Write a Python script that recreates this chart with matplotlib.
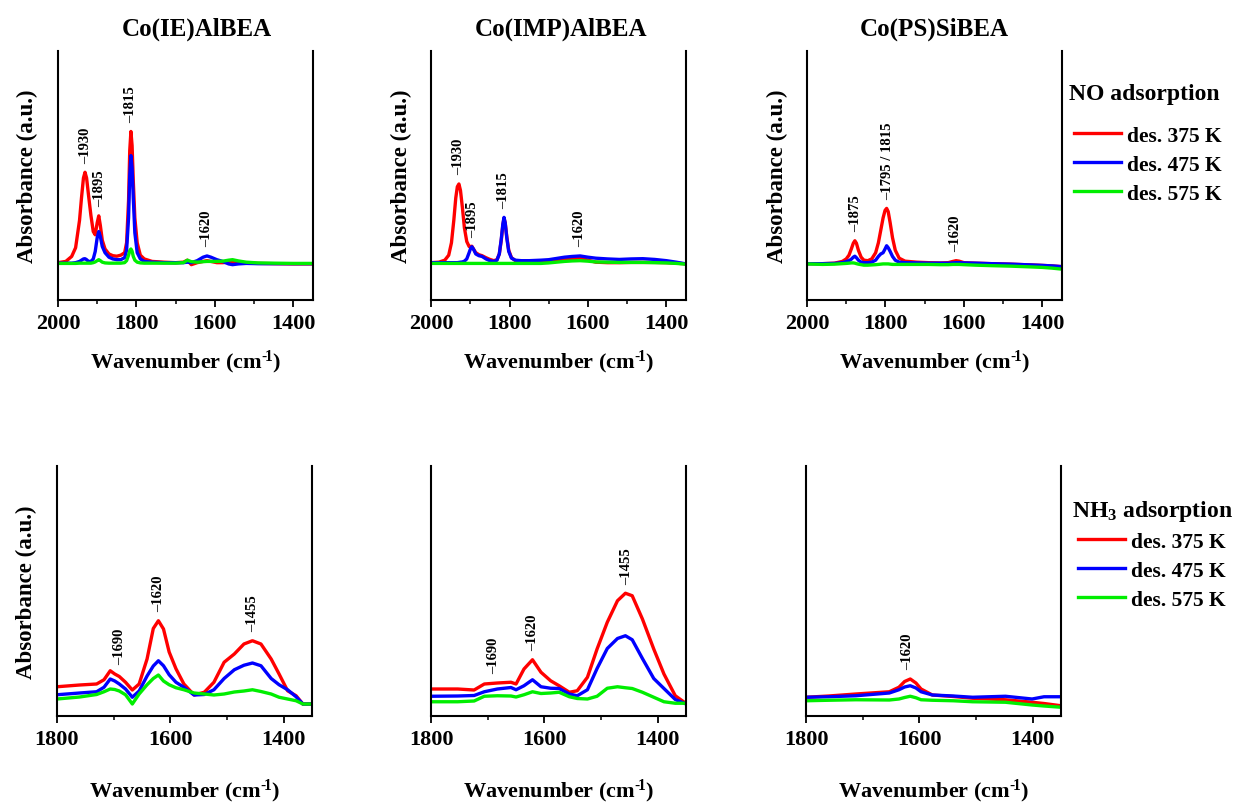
import numpy as np
import matplotlib
matplotlib.use('Agg')
import matplotlib.pyplot as plt
from matplotlib.ticker import MultipleLocator

plt.rcParams['font.family'] = 'Liberation Serif'
plt.rcParams['font.weight'] = 'bold'
plt.rcParams['axes.labelweight'] = 'bold'
plt.rcParams['axes.titleweight'] = 'bold'
plt.rcParams['mathtext.fontset'] = 'custom'
plt.rcParams['mathtext.rm'] = 'Liberation Serif:bold'
plt.rcParams['mathtext.bf'] = 'Liberation Serif:bold'
plt.rcParams['mathtext.it'] = 'Liberation Serif:bold'
plt.rcParams['mathtext.default'] = 'rm'

samples = ['Co(IE)AlBEA', 'Co(IMP)AlBEA', 'Co(PS)SiBEA']
series_labels = ['des. 375 K', 'des. 475 K', 'des. 575 K']
colors = ['#ff0000', '#0000ff', '#00ee00']

# ---- NO adsorption (absorbance in arbitrary units) ----
no_ie_wn = [2000, 1980, 1965, 1955, 1945, 1940, 1935, 1931, 1927, 1922,
            1916, 1910, 1905, 1900, 1896, 1892, 1887, 1880, 1870, 1860,
            1850, 1840, 1830, 1825, 1820, 1817, 1814, 1811, 1808, 1804,
            1798, 1790, 1780, 1760, 1730, 1700, 1680, 1670, 1660, 1645,
            1630, 1620, 1610, 1595, 1580, 1565, 1555, 1540, 1520, 1490,
            1450, 1400, 1350]
no_ie_375 = [0.150, 0.155, 0.175, 0.210, 0.320, 0.410, 0.490, 0.513, 0.490, 0.420,
             0.340, 0.275, 0.262, 0.310, 0.338, 0.300, 0.240, 0.205, 0.185, 0.178,
             0.176, 0.180, 0.190, 0.230, 0.400, 0.600, 0.677, 0.620, 0.480, 0.330,
             0.230, 0.180, 0.165, 0.155, 0.152, 0.150, 0.152, 0.160, 0.142, 0.150,
             0.155, 0.158, 0.155, 0.150, 0.150, 0.152, 0.152, 0.150, 0.148, 0.147,
             0.146, 0.145, 0.145]
no_ie_475 = [0.148, 0.148, 0.148, 0.150, 0.155, 0.160, 0.165, 0.166, 0.162, 0.155,
             0.155, 0.165, 0.195, 0.250, 0.275, 0.255, 0.215, 0.190, 0.172, 0.165,
             0.162, 0.162, 0.170, 0.200, 0.330, 0.500, 0.580, 0.530, 0.410, 0.270,
             0.190, 0.165, 0.155, 0.152, 0.150, 0.150, 0.150, 0.152, 0.150, 0.158,
             0.172, 0.177, 0.172, 0.162, 0.155, 0.145, 0.142, 0.145, 0.147, 0.146,
             0.146, 0.146, 0.146]
no_ie_575 = [0.147, 0.147, 0.147, 0.147, 0.148, 0.148, 0.148, 0.148, 0.148, 0.148,
             0.148, 0.150, 0.153, 0.158, 0.162, 0.158, 0.152, 0.149, 0.148, 0.148,
             0.148, 0.148, 0.150, 0.158, 0.180, 0.198, 0.205, 0.196, 0.175, 0.160,
             0.152, 0.149, 0.148, 0.148, 0.148, 0.148, 0.150, 0.160, 0.154, 0.152,
             0.154, 0.155, 0.155, 0.155, 0.156, 0.160, 0.162, 0.157, 0.152, 0.149,
             0.148, 0.147, 0.147]

no_imp_wn = [2000, 1980, 1965, 1955, 1948, 1942, 1937, 1933, 1929, 1925,
             1920, 1915, 1909, 1903, 1899, 1896, 1892, 1886, 1878, 1870,
             1860, 1850, 1840, 1832, 1826, 1821, 1817, 1814, 1811, 1807,
             1802, 1795, 1785, 1770, 1750, 1720, 1700, 1680, 1660, 1640,
             1620, 1600, 1580, 1550, 1520, 1490, 1460, 1430, 1400, 1375,
             1350]
no_imp_375 = [0.150, 0.152, 0.160, 0.180, 0.230, 0.320, 0.410, 0.455, 0.466, 0.440,
              0.370, 0.290, 0.235, 0.215, 0.215, 0.216, 0.205, 0.190, 0.182, 0.178,
              0.170, 0.163, 0.158, 0.162, 0.185, 0.240, 0.300, 0.328, 0.310, 0.255,
              0.200, 0.170, 0.158, 0.153, 0.152, 0.153, 0.155, 0.158, 0.162, 0.165,
              0.170, 0.160, 0.152, 0.150, 0.150, 0.151, 0.151, 0.151, 0.150, 0.148,
              0.145]
no_imp_475 = [0.150, 0.150, 0.150, 0.150, 0.150, 0.150, 0.150, 0.150, 0.151, 0.152,
              0.153, 0.156, 0.165, 0.190, 0.208, 0.214, 0.205, 0.185, 0.178, 0.175,
              0.165, 0.158, 0.155, 0.160, 0.185, 0.245, 0.305, 0.332, 0.310, 0.250,
              0.195, 0.168, 0.160, 0.158, 0.158, 0.160, 0.162, 0.167, 0.172, 0.175,
              0.177, 0.172, 0.168, 0.165, 0.163, 0.165, 0.166, 0.163, 0.158, 0.152,
              0.145]
no_imp_575 = [0.147, 0.147, 0.147, 0.147, 0.147, 0.147, 0.147, 0.147, 0.147, 0.147,
              0.147, 0.147, 0.147, 0.147, 0.147, 0.147, 0.147, 0.147, 0.147, 0.147,
              0.147, 0.147, 0.147, 0.147, 0.147, 0.147, 0.147, 0.147, 0.147, 0.147,
              0.147, 0.147, 0.147, 0.147, 0.147, 0.147, 0.149, 0.152, 0.155, 0.157,
              0.158, 0.156, 0.153, 0.152, 0.151, 0.151, 0.151, 0.150, 0.149, 0.147,
              0.144]

no_ps_wn = [2000, 1960, 1930, 1910, 1900, 1893, 1887, 1882, 1878, 1874,
            1869, 1862, 1855, 1845, 1835, 1825, 1818, 1812, 1806, 1801,
            1797, 1793, 1788, 1782, 1775, 1765, 1750, 1720, 1690, 1660,
            1640, 1628, 1620, 1612, 1600, 1570, 1530, 1480, 1430, 1400,
            1375, 1350]
no_ps_375 = [0.146, 0.146, 0.148, 0.155, 0.165, 0.180, 0.205, 0.228, 0.238, 0.228,
             0.200, 0.172, 0.160, 0.158, 0.165, 0.190, 0.230, 0.280, 0.330, 0.360,
             0.368, 0.355, 0.310, 0.250, 0.200, 0.168, 0.156, 0.152, 0.150, 0.149,
             0.150, 0.155, 0.158, 0.156, 0.150, 0.148, 0.146, 0.144, 0.141, 0.139,
             0.137, 0.134]
no_ps_475 = [0.146, 0.146, 0.147, 0.150, 0.154, 0.158, 0.164, 0.172, 0.176, 0.170,
             0.160, 0.152, 0.150, 0.150, 0.152, 0.160, 0.175, 0.185, 0.190, 0.205,
             0.218, 0.210, 0.195, 0.175, 0.160, 0.152, 0.150, 0.149, 0.148, 0.148,
             0.148, 0.149, 0.150, 0.150, 0.149, 0.148, 0.146, 0.144, 0.141, 0.139,
             0.137, 0.134]
no_ps_575 = [0.145, 0.143, 0.144, 0.146, 0.147, 0.148, 0.149, 0.149, 0.148, 0.146,
             0.144, 0.142, 0.140, 0.140, 0.141, 0.142, 0.143, 0.144, 0.145, 0.145,
             0.145, 0.145, 0.144, 0.143, 0.143, 0.143, 0.143, 0.143, 0.143, 0.142,
             0.142, 0.143, 0.143, 0.143, 0.142, 0.140, 0.138, 0.136, 0.133, 0.131,
             0.128, 0.124]

# ---- NH3 adsorption ----
nh3_ie_wn = [1800, 1760, 1730, 1717, 1706, 1698, 1690, 1679, 1667, 1655,
             1641, 1630, 1621, 1612, 1602, 1590, 1576, 1558, 1540, 1523,
             1505, 1487, 1470, 1455, 1440, 1422, 1408, 1393, 1378, 1366,
             1350]
nh3_ie_375 = [0.117, 0.124, 0.128, 0.145, 0.181, 0.168, 0.158, 0.135, 0.104, 0.128,
              0.228, 0.350, 0.381, 0.348, 0.256, 0.189, 0.128, 0.084, 0.095, 0.135,
              0.215, 0.248, 0.288, 0.301, 0.288, 0.228, 0.168, 0.101, 0.081, 0.048,
              0.048]
nh3_ie_475 = [0.085, 0.092, 0.097, 0.115, 0.148, 0.140, 0.128, 0.108, 0.075, 0.100,
              0.160, 0.200, 0.221, 0.201, 0.165, 0.135, 0.115, 0.084, 0.086, 0.105,
              0.150, 0.185, 0.203, 0.212, 0.201, 0.150, 0.125, 0.105, 0.077, 0.048,
              0.048]
nh3_ie_575 = [0.068, 0.076, 0.086, 0.097, 0.108, 0.106, 0.100, 0.085, 0.048, 0.088,
              0.125, 0.150, 0.164, 0.140, 0.125, 0.113, 0.105, 0.092, 0.088, 0.084,
              0.088, 0.096, 0.100, 0.105, 0.098, 0.088, 0.075, 0.068, 0.061, 0.048,
              0.048]

nh3_imp_wn = [1800, 1753, 1724, 1706, 1683, 1659, 1650, 1636, 1621, 1606,
              1589, 1574, 1556, 1542, 1524, 1507, 1489, 1471, 1457, 1445,
              1427, 1407, 1389, 1369, 1350]
nh3_imp_375 = [0.108, 0.108, 0.104, 0.128, 0.132, 0.135, 0.128, 0.188, 0.225, 0.175,
               0.141, 0.121, 0.095, 0.101, 0.155, 0.268, 0.375, 0.461, 0.491, 0.481,
               0.388, 0.268, 0.168, 0.081, 0.050]
nh3_imp_475 = [0.079, 0.080, 0.082, 0.097, 0.108, 0.114, 0.105, 0.121, 0.145, 0.117,
               0.111, 0.110, 0.088, 0.081, 0.105, 0.190, 0.270, 0.310, 0.321, 0.305,
               0.230, 0.150, 0.110, 0.066, 0.048]
nh3_imp_575 = [0.057, 0.057, 0.060, 0.079, 0.081, 0.080, 0.076, 0.085, 0.097, 0.090,
               0.092, 0.095, 0.077, 0.070, 0.068, 0.079, 0.111, 0.117, 0.113, 0.110,
               0.095, 0.075, 0.057, 0.051, 0.051]

nh3_ps_wn = [1800, 1760, 1712, 1653, 1636, 1626, 1616, 1606, 1597, 1577,
             1540, 1506, 1448, 1401, 1380, 1350]
nh3_ps_375 = [0.075, 0.080, 0.088, 0.097, 0.115, 0.138, 0.148, 0.132, 0.108, 0.084,
              0.078, 0.071, 0.065, 0.055, 0.050, 0.041]
nh3_ps_475 = [0.075, 0.077, 0.081, 0.092, 0.105, 0.116, 0.121, 0.112, 0.097, 0.084,
              0.080, 0.075, 0.079, 0.068, 0.077, 0.077]
nh3_ps_575 = [0.061, 0.063, 0.065, 0.064, 0.068, 0.074, 0.079, 0.073, 0.065, 0.063,
              0.061, 0.057, 0.055, 0.044, 0.040, 0.035]

# band labels
no_ie_bands = [1930, 1895, 1815, 1620]
no_ie_band_text = ['1930', '1895', '1815', '1620']
no_imp_bands = [1930, 1895, 1815, 1620]
no_imp_band_text = ['1930', '1895', '1815', '1620']
no_ps_bands = [1875, 1795, 1620]
no_ps_band_text = ['1875', '1795 / 1815', '1620']
nh3_ie_bands = [1690, 1620, 1455]
nh3_ie_band_text = ['1690', '1620', '1455']
nh3_imp_bands = [1690, 1620, 1455]
nh3_imp_band_text = ['1690', '1620', '1455']
nh3_ps_bands = [1620]
nh3_ps_band_text = ['1620']

xlabel = 'Wavenumber (cm$^{\u2010\\!1}$)'


def draw_panel(ax, wn, spectra, bands, band_text, xlim, ticks, minor):
    wn = np.array(wn)
    lines = []
    for y, c, lab in zip(spectra, colors, series_labels):
        ln, = ax.plot(wn, y, color=c, lw=2.4, label=lab)
        lines.append(ln)
    ax.set_xlim(*xlim)
    ax.set_ylim(0, 1)
    ax.set_xticks(ticks)
    ax.xaxis.set_minor_locator(MultipleLocator(minor))
    ax.set_yticks([])
    ax.spines['top'].set_visible(False)
    for s in ['left', 'right', 'bottom']:
        ax.spines[s].set_linewidth(1.5)
    ax.tick_params(axis='x', which='major', direction='out', length=5, width=1.3,
                   labelsize=16, pad=4)
    ax.tick_params(axis='x', which='minor', direction='out', length=3, width=1.1)
    ax.set_xlabel(xlabel, fontsize=16)
    # band labels sit just above the highest curve near each band
    for b, t in zip(bands, band_text):
        near = np.abs(wn - b) <= 12
        top = max(np.max(np.array(y)[near]) for y in spectra)
        ax.annotate('\u2013' + t, xy=(b, top), xytext=(0, 7), textcoords='offset points',
                    rotation=90, ha='center', va='bottom', fontsize=10.5,
                    fontweight='bold')
    return lines


fig = plt.figure(figsize=(12.33, 8.04), dpi=100)

top_lefts = [0.0470, 0.3496, 0.6545]
bot_lefts = [0.0462, 0.3496, 0.6537]
title_x = [0.545, 0.51, 0.5]
w = 0.2068

no_data = [
    (no_ie_wn, [no_ie_375, no_ie_475, no_ie_575], no_ie_bands, no_ie_band_text),
    (no_imp_wn, [no_imp_375, no_imp_475, no_imp_575], no_imp_bands, no_imp_band_text),
    (no_ps_wn, [no_ps_375, no_ps_475, no_ps_575], no_ps_bands, no_ps_band_text),
]
nh3_data = [
    (nh3_ie_wn, [nh3_ie_375, nh3_ie_475, nh3_ie_575], nh3_ie_bands, nh3_ie_band_text),
    (nh3_imp_wn, [nh3_imp_375, nh3_imp_475, nh3_imp_575], nh3_imp_bands, nh3_imp_band_text),
    (nh3_ps_wn, [nh3_ps_375, nh3_ps_475, nh3_ps_575], nh3_ps_bands, nh3_ps_band_text),
]

top_axes = []
for i, (wn, spec, bands, txt) in enumerate(no_data):
    ax = fig.add_axes([top_lefts[i], 0.6256, w, 0.3097])
    lines_no = draw_panel(ax, wn, spec, bands, txt, (2000, 1350), [2000, 1800, 1600, 1400], 100)
    ax.set_title(samples[i], fontsize=18, pad=12, x=title_x[i])
    ax.set_ylabel('Absorbance (a.u.)', fontsize=16.5, labelpad=14)
    ax.xaxis.labelpad = 11
    top_axes.append(ax)

bot_axes = []
for i, (wn, spec, bands, txt) in enumerate(nh3_data):
    ax = fig.add_axes([bot_lefts[i], 0.1082, w, 0.311])
    lines_nh3 = draw_panel(ax, wn, spec, bands, txt, (1800, 1350), [1800, 1600, 1400], 100)
    if i == 0:
        ax.set_ylabel('Absorbance (a.u.)', fontsize=16.5, labelpad=14)
    ax.xaxis.labelpad = 20
    bot_axes.append(ax)

leg_kw = dict(loc='upper left', frameon=False, fontsize=15.5, handlelength=2.2,
              handletextpad=0.28, labelspacing=0.42, borderpad=0, borderaxespad=0)

axr = top_axes[2]
axr.legend(handles=lines_no, bbox_to_anchor=(1.047, 0.70), **leg_kw)
axr.text(1.027, 0.807, 'NO adsorption', transform=axr.transAxes, fontsize=17,
         fontweight='bold', ha='left', va='baseline')

axr = bot_axes[2]
axr.legend(handles=lines_nh3, bbox_to_anchor=(1.066, 0.738), **leg_kw)
axr.text(1.043, 0.80, 'NH$_3$ adsorption', transform=axr.transAxes, fontsize=17,
         fontweight='bold', ha='left', va='baseline')

fig.savefig('out.png', dpi=100)
